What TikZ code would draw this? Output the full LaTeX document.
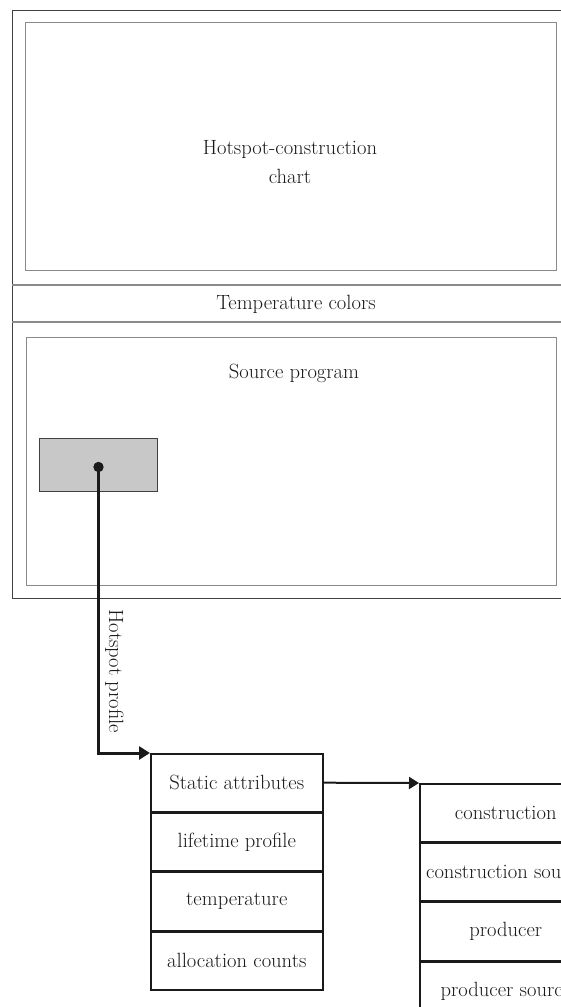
\documentclass[tikz,border=0pt]{standalone}
\usetikzlibrary{arrows.meta,positioning}
\definecolor{framec}{HTML}{404040}
\definecolor{panelc}{HTML}{8A8A8A}
\definecolor{inkc}{HTML}{1A1A1A}
\definecolor{hotfill}{HTML}{C8C8C8}
\begin{document}
\begin{tikzpicture}[x=1pt,y=-1pt,
  every node/.style={font=\fontsize{20.6}{29}\selectfont, text=inkc},
  frame/.style={draw=framec, line width=1.4pt, rectangle, inner sep=0pt, anchor=north west},
  panel/.style={draw=panelc, line width=1.1pt, rectangle, inner sep=0pt, anchor=north west},
  sep/.style={draw=panelc, line width=1.2pt},
  hotbox/.style={draw=framec, fill=hotfill, line width=1pt, rectangle, inner sep=0pt, anchor=north west,
    minimum width=118pt, minimum height=53pt},
  cell/.style={draw=inkc, line width=1.6pt, rectangle, inner sep=0pt, anchor=north west,
    minimum width=172pt, minimum height=57.8pt, align=center},
  label/.style={align=center},
  thick conn/.style={draw=inkc, line width=3pt, -{Triangle[length=11pt,width=13pt]}},
  thin conn/.style={draw=inkc, line width=2pt, -{Triangle[length=10pt,width=12pt]}}
]
\useasboundingbox (0,0) rectangle (561,1007);
\clip (0,0) rectangle (561,1007);

% outer window frame with its two separators
\node[frame, minimum width=568pt, minimum height=588pt] (win) at (12,10) {};
\draw[sep] (12,285) coordinate (s1l) -- (580,285) coordinate (s1r);
\draw[sep] (12,322) coordinate (s2l) -- (580,322) coordinate (s2r);

% chart panel
\node[panel, minimum width=531pt, minimum height=248pt] (chart) at (25,22) {};
\node[label] (chartlbl) at (290,162) {Hotspot-construction\\chart};

% colour legend strip
\node[label] (templbl) at (296,304) {Temperature colors};

% source program panel
\node[panel, minimum width=530pt, minimum height=248pt] (src) at (26,337) {};
\node[label] (srclbl) at (294,373) {Source program};
\node[hotbox] (hot) at (39,438) {};
\coordinate (hotpt) at (98.5,467);

% profile record
\node[cell] (r1) at (150,753) {Static attributes};
\node[cell, anchor=north west] (r2) at (r1.south west) {lifetime profile};
\node[cell, anchor=north west] (r3) at (r2.south west) {temperature};
\node[cell, anchor=north west] (r4) at (r3.south west) {allocation counts};

% static attribute record
\node[cell] (q1) at (419,783) {construction};
\node[cell, anchor=north west] (q2) at (q1.south west) {construction source};
\node[cell, anchor=north west] (q3) at (q2.south west) {producer};
\node[cell, anchor=north west] (q4) at (q3.south west) {producer source};

% connectors
\fill[inkc] (hotpt) circle (5.2pt);
\draw[thick conn] (hotpt) |- node[pos=0.357, rotate=-90, anchor=south, inner sep=5pt] (hplbl) {Hotspot profile} (r1.north west);
\draw[thin conn] (r1.east) -- (q1.north west);
\end{tikzpicture}
\end{document}
